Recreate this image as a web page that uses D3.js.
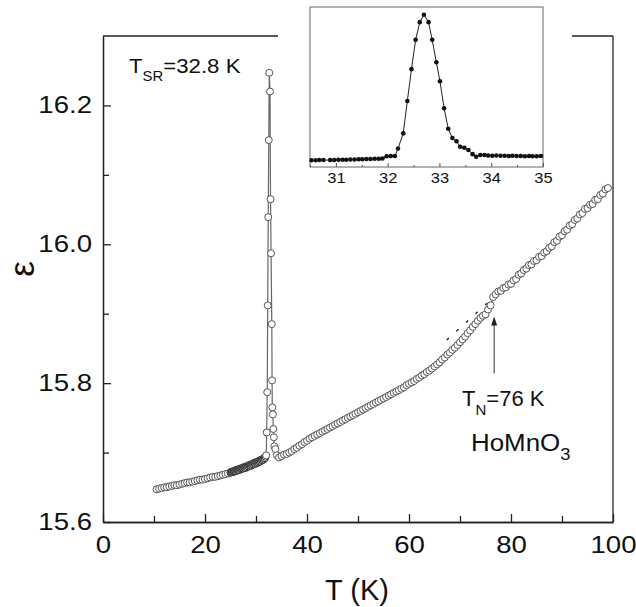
<!DOCTYPE html>
<html><head><meta charset="utf-8">
<script src="https://cdn.jsdelivr.net/npm/d3@7"></script>
<style>body{margin:0;background:#fff}svg{display:block}</style>
</head><body>
<svg id="c" width="636" height="607"></svg>
<script>
// ---- data ----
const lowT = [10.5,11,11.5,12,12.5,13,13.5,14,14.5,15,15.5,16,16.5,17,17.5,18,18.5,19,19.5,20,20.5,21,21.5,22,22.5,23,23.5,24,24.5,25,
  25.25,25.5,25.75,26,26.25,26.5,26.75,27,27.25,27.5,27.75,28,28.25,28.5,28.75,29,29.25,29.5,29.75,30,30.25,30.5,30.75,31,31.25,31.5,31.75];
const lowEps = [15.647,15.648,15.649,15.650,15.650,15.651,15.652,15.653,15.653,15.654,15.655,15.656,15.657,15.657,15.658,15.659,15.660,15.661,15.661,15.662,15.663,15.664,15.665,15.665,15.666,15.667,15.668,15.669,15.670,15.671,
  15.672,15.672,15.673,15.673,15.674,15.675,15.675,15.676,15.677,15.677,15.678,15.678,15.679,15.680,15.681,15.681,15.682,15.683,15.684,15.684,15.685,15.686,15.687,15.688,15.689,15.690,15.692];
const lowT2 = [25.125,25.375,25.625,25.875,26.125,26.375,26.625,26.875,27.125,27.375,27.625,27.875,28.125,28.375,28.625,28.875,29.125,29.375,29.625,29.875,30.125,30.375,30.625,30.875,31.125,31.375,31.625,31.875];
const lowEps2 = [15.672,15.673,15.673,15.674,15.675,15.675,15.676,15.677,15.677,15.678,15.679,15.679,15.680,15.681,15.682,15.682,15.683,15.684,15.685,15.686,15.686,15.687,15.688,15.689,15.690,15.691,15.692,15.694];
const peakT = [32.0,32.1,32.2,32.3,32.4,32.5,32.6,32.75,32.85,32.95,33.1,33.15,33.2,33.3,33.4,33.5,33.6,33.8,34.1,34.5];
const peakEps = [15.696,15.729,15.787,15.912,16.039,16.150,16.247,16.220,16.065,15.987,15.885,15.804,15.765,15.755,15.734,15.722,15.709,15.705,15.696,15.693];
const highT = [35,36,37,38,39,40,41,42,43,44,45,46,47,48,49,50,51,52,53,54,55,56,57,58,59,60,61,62,63,64,65,66,67,68,69,70,71,72,73,74,75,76,76.5,77,78,79,80,81,82,83,84,85,86,87,88,89,90,91,92,93,94,95,96,97,98,99];
const highEps = [15.695,15.698,15.702,15.707,15.712,15.717,15.722,15.726,15.730,15.734,15.738,15.742,15.746,15.750,15.754,15.758,15.762,15.766,15.770,15.774,15.778,15.782,15.786,15.790,15.794,15.799,15.803,15.808,15.813,15.818,15.824,15.830,15.837,15.844,15.851,15.859,15.867,15.876,15.885,15.894,15.899,15.912,15.924,15.928,15.933,15.938,15.943,15.950,15.958,15.965,15.971,15.977,15.983,15.990,15.997,16.005,16.013,16.021,16.029,16.037,16.045,16.052,16.058,16.065,16.073,16.081];
const highT2 = [35.5,36.5,37.5,38.5,39.5,40.5,41.5,42.5,43.5,44.5,45.5,46.5,47.5,48.5,49.5,50.5,51.5,52.5,53.5,54.5,55.5,56.5,57.5,58.5,59.5,60.5,61.5,62.5,63.5,64.5,65.5,66.5,67.5,68.5,69.5,70.5,71.5,72.5,73.5,74.5,75.5,77.5,78.5,79.5,80.5,81.5,82.5,83.5,84.5,85.5,86.5,87.5,88.5,89.5,90.5,91.5,92.5,93.5,94.5,95.5,96.5,97.5,98.5];
const highEps2 = [15.697,15.700,15.705,15.710,15.715,15.720,15.724,15.728,15.732,15.736,15.740,15.744,15.748,15.752,15.756,15.760,15.764,15.768,15.772,15.776,15.780,15.784,15.788,15.792,15.797,15.801,15.806,15.811,15.816,15.821,15.827,15.834,15.841,15.848,15.855,15.863,15.872,15.881,15.890,15.897,15.906,15.932,15.937,15.942,15.948,15.956,15.963,15.970,15.976,15.982,15.988,15.995,16.003,16.011,16.019,16.027,16.035,16.043,16.051,16.057,16.064,16.071,16.079];
const insetT = [30.53,30.61,30.68,30.76,30.89,30.97,31.05,31.13,31.20,31.28,31.36,31.44,31.51,31.59,31.67,31.75,31.83,31.90,31.98,32.06,32.14,
  32.20,32.30,32.38,32.46,32.54,32.62,32.70,32.79,32.86,32.94,33.01,33.09,33.17,33.25,33.33,33.40,33.48,33.56,33.64,33.71,
  33.79,33.87,33.94,34.02,34.10,34.18,34.26,34.34,34.41,34.49,34.57,34.65,34.73,34.80,34.88,34.96];
const insetEps = [15.684,15.684,15.685,15.685,15.685,15.685,15.686,15.686,15.686,15.687,15.687,15.688,15.688,15.689,15.689,15.690,15.690,15.691,15.700,15.701,15.701,
  15.730,15.789,15.915,16.039,16.153,16.222,16.251,16.222,16.153,16.066,15.992,15.887,15.807,15.771,15.758,15.737,15.733,15.724,15.708,15.698,
  15.705,15.705,15.703,15.702,15.703,15.702,15.702,15.701,15.702,15.701,15.701,15.700,15.701,15.700,15.700,15.701];
const xTicks = [0,20,40,60,80,100];
const xMinor = [10,30,50,70,90];
const yTicks = [15.6,15.8,16.0,16.2];
const yMinor = [15.7,15.9,16.1];
const insetTicks = [31,32,33,34,35];
const insetMinor = [30.5,31.5,32.5,33.5,34.5];
const dashT = [67.4,75.3], dashEps = [15.862,15.915];
const arrowT = 76.7, arrowEps = [15.814,15.896];

// ---- drawing ----
const svg = d3.select("#c");
const FONT = "Liberation Sans, Arial, Helvetica, sans-serif";
const x = d3.scaleLinear().domain([0,100]).range([103,613]);
const y = d3.scaleLinear().domain([15.6,16.3]).range([522,36]);

// frame top/right
svg.append("line").attr("x1",103).attr("x2",613).attr("y1",36).attr("y2",36).attr("stroke","#222").attr("stroke-width",1.3);
svg.append("line").attr("x1",613).attr("x2",613).attr("y1",36).attr("y2",522).attr("stroke","#222").attr("stroke-width",1.3);

// axes
const gx = svg.append("g").attr("transform","translate(0,522)")
  .call(d3.axisBottom(x).tickValues(xTicks).tickFormat(d3.format("d")).tickSizeInner(-8).tickSizeOuter(0).tickPadding(15));
const gxm = svg.append("g").attr("transform","translate(0,522)")
  .call(d3.axisBottom(x).tickValues(xMinor).tickFormat("").tickSizeInner(-6).tickSizeOuter(0));
const gy = svg.append("g").attr("transform","translate(103,0)")
  .call(d3.axisLeft(y).tickValues(yTicks).tickFormat(d3.format(".1f")).tickSizeInner(-8).tickSizeOuter(0).tickPadding(11));
const gym = svg.append("g").attr("transform","translate(103,0)")
  .call(d3.axisLeft(y).tickValues(yMinor).tickFormat("").tickSizeInner(-6).tickSizeOuter(0));
[gx,gxm,gy,gym].forEach(g=>{g.selectAll("path,line").attr("stroke","#222").attr("stroke-width",1.3);});
gx.selectAll("text").attr("font-family",FONT).attr("font-size",23).attr("fill","#111").attr("transform","scale(1.2,1)");
gy.selectAll("text").attr("font-family",FONT).attr("font-size",23).attr("fill","#111").attr("x",0)
  .attr("transform","translate(-11,0) scale(1.2,1)");

// axis titles
svg.append("text").attr("x",357).attr("y",600).attr("text-anchor","middle").attr("font-family",FONT).attr("font-size",29).attr("fill","#111").text("T (K)");
svg.append("text").attr("transform","translate(34,269) rotate(-90)").attr("text-anchor","middle").attr("font-family",FONT).attr("font-size",35).attr("fill","#111").text("ε");

// white mask behind inset
svg.append("rect").attr("x",278).attr("y",0).attr("width",294).attr("height",195).attr("fill","#fff");

// main data
const pts = [];
lowT.forEach((t,i)=>pts.push([t,lowEps[i]]));
peakT.forEach((t,i)=>pts.push([t,peakEps[i]]));
highT.forEach((t,i)=>pts.push([t,highEps[i]]));
const pts2 = [];
lowT2.forEach((t,i)=>pts2.push([t,lowEps2[i]]));
highT2.forEach((t,i)=>pts2.push([t,highEps2[i]]));
svg.append("path").datum(pts).attr("fill","none").attr("stroke","#666").attr("stroke-width",1.2)
  .attr("d",d3.line().x(d=>x(d[0])).y(d=>y(d[1])));
const allPts = pts.concat(pts2).sort((a,b)=>a[0]-b[0]);
svg.append("g").selectAll("circle").data(allPts).join("circle")
  .attr("cx",d=>x(d[0])).attr("cy",d=>y(d[1])).attr("r",3.5)
  .attr("fill","#fff").attr("stroke",d=>(d[0]>=25 && d[0]<32) ? "#2a2a2a" : "#555").attr("stroke-width",1);

// dashed extrapolation
svg.append("line").attr("x1",x(dashT[0])).attr("y1",y(dashEps[0])).attr("x2",x(dashT[1])).attr("y2",y(dashEps[1]))
  .attr("stroke","#222").attr("stroke-width",1.4).attr("stroke-dasharray","3,10");

// arrow
svg.append("line").attr("x1",x(arrowT)).attr("x2",x(arrowT)).attr("y1",y(arrowEps[0])).attr("y2",y(arrowEps[1])+6)
  .attr("stroke","#333").attr("stroke-width",1);
svg.append("path").attr("d",`M${x(arrowT)},${y(arrowEps[1])} l-3,9 l6,0 z`).attr("fill","#222");

// annotations
function label(px,py,sx,parts){
  const t = svg.append("text").attr("transform",`translate(${px},${py}) scale(${sx},1)`).attr("font-family",FONT).attr("fill","#111");
  parts.forEach(p=>t.append("tspan").attr("font-size",p[1]).attr("dy",p[2]).text(p[0]));
}
label(129,73,1.06,[["T",21,0],["SR",14,8],["=32.8 K",21,-8]]);
label(462,406,1.0,[["T",22,0],["N",15,9],["=76 K",22,-9]]);
label(471,451,1.08,[["HoMnO",24,0],["3",17,9]]);

// inset
const ix = d3.scaleLinear().domain([30.5,35]).range([310,543]);
const iy = d3.scaleLinear().domain([15.658,16.281]).range([167,7]);
svg.append("rect").attr("x",310).attr("y",7).attr("width",233).attr("height",160).attr("fill","#fff").attr("stroke","#666").attr("stroke-width",1);
const gi = svg.append("g").attr("transform","translate(0,167)")
  .call(d3.axisBottom(ix).tickValues(insetTicks).tickFormat(d3.format("d")).tickSizeInner(-4).tickSizeOuter(0).tickPadding(5));
const gim = svg.append("g").attr("transform","translate(0,167)")
  .call(d3.axisBottom(ix).tickValues(insetMinor).tickFormat("").tickSizeInner(-2).tickSizeOuter(0));
[gi,gim].forEach(g=>{g.selectAll("path").remove();g.selectAll("line").attr("stroke","#555");});
gi.selectAll("text").attr("font-family",FONT).attr("font-size",15).attr("fill","#111").attr("transform","scale(1.1,1)");
const ipts = insetT.map((t,i)=>[t,insetEps[i]]);
svg.append("path").datum(ipts).attr("fill","none").attr("stroke","#222").attr("stroke-width",1)
  .attr("d",d3.line().x(d=>ix(d[0])).y(d=>iy(d[1])));
svg.append("g").selectAll("circle").data(ipts).join("circle")
  .attr("cx",d=>ix(d[0])).attr("cy",d=>iy(d[1])).attr("r",2.3).attr("fill","#111");
</script>
</body></html>
